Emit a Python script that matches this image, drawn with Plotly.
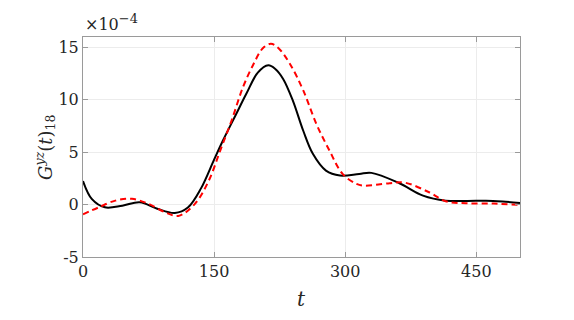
import plotly.graph_objects as go

# time samples and values (x 1e-4)
t_black = [0, 10, 25, 45, 65, 85, 105, 120, 135, 150, 160, 175, 187, 200, 212, 220,
           229, 240, 252, 263, 278, 294, 316, 330, 362, 389, 415, 440, 461, 480, 500]
g_black = [2.25, 0.55, -0.26, -0.1, 0.22, -0.4, -0.8, -0.28, 1.55, 4.3, 6.1, 8.6,
           10.6, 12.6, 13.3, 12.95, 12.0, 9.95, 7.05, 4.85, 3.25, 2.78, 2.93, 3.03, 2.04,
           0.86, 0.38, 0.35, 0.38, 0.3, 0.16]

t_red = [0, 18, 37, 56, 75, 94, 109, 128, 144, 157, 170, 183, 195, 206, 215, 224,
         237, 252, 267, 282, 297, 313, 322, 351, 368, 396, 415, 438, 470, 500]
g_red = [-0.92, -0.26, 0.38, 0.55, 0.07, -0.73, -1.08, 0.07, 2.3, 5.16, 8.02, 11.2,
         13.4, 14.95, 15.35, 14.9, 13.4, 10.9, 7.7, 5.16, 2.93, 1.98, 1.81, 2.04,
         2.1, 1.18, 0.32, 0.13, 0.1, -0.03]

x_ticks = [0, 150, 300, 450]
y_ticks = [-5, 0, 5, 10, 15]

FONT = "DejaVu Serif"
AXIS_GREY = "#9a9a9a"
TEXT = "#262626"

fig = go.Figure()
fig.add_trace(go.Scatter(x=t_black, y=g_black, mode="lines",
                         line=dict(color="black", width=2, shape="spline", smoothing=1.0)))
fig.add_trace(go.Scatter(x=t_red, y=g_red, mode="lines",
                         line=dict(color="#ff0000", width=2, dash="6px,4px",
                                   shape="spline", smoothing=1.0)))

axis_common = dict(showline=True, linecolor=AXIS_GREY, linewidth=1, mirror="ticks",
                   ticks="inside", ticklen=5, tickcolor=AXIS_GREY,
                   showgrid=True, gridcolor="#ececec", gridwidth=1, zeroline=False,
                   tickfont=dict(family=FONT, size=16, color=TEXT))

fig.update_xaxes(range=[0, 500], tickvals=x_ticks, **axis_common)
fig.update_yaxes(range=[-5, 16], tickvals=y_ticks, ticktext=["-5", "0", "5", "10", "15"],
                 **axis_common)

# page body has an 8px margin, so the figure is 8px smaller than the window
fig.update_layout(
    width=566, height=312,
    margin=dict(l=75, r=54, t=29, b=63),
    plot_bgcolor="white", paper_bgcolor="white",
    showlegend=False,
    annotations=[
        dict(text="×10<sup><span style='font-size:13px'>−4</span></sup>",
             xref="paper", yref="paper", x=0.0, y=1.0,
             xanchor="left", yanchor="bottom", yshift=1, showarrow=False,
             font=dict(family=FONT, size=16, color=TEXT)),
        dict(text="<i>G</i><sup><i>yz</i></sup>(<i>t</i>)<sub>18</sub>",
             xref="paper", yref="paper", x=-0.087, y=0.5, textangle=-90,
             xanchor="center", yanchor="middle", showarrow=False,
             font=dict(family=FONT, size=18, color=TEXT)),
        dict(text="<i>t</i>", xref="paper", yref="paper", x=0.5, y=-0.19,
             xanchor="center", yanchor="middle", showarrow=False,
             font=dict(family=FONT, size=20, color=TEXT)),
    ],
)

fig.write_html("out.html")
